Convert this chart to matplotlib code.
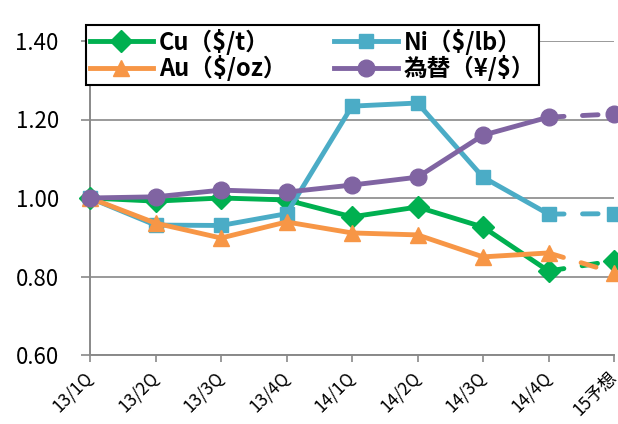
import matplotlib
matplotlib.use("Agg")
import matplotlib.pyplot as plt
import numpy as np

plt.rcParams['font.family'] = ['Noto Sans CJK JP', 'DejaVu Sans']

quarters = ['13/1Q', '13/2Q', '13/3Q', '13/4Q', '14/1Q', '14/2Q', '14/3Q', '14/4Q', '15予想']
cu = [1.00, 0.992, 1.00, 0.995, 0.952, 0.977, 0.926, 0.814, 0.840]
ni = [1.00, 0.931, 0.930, 0.960, 1.234, 1.242, 1.053, 0.959, 0.960]
au = [1.00, 0.936, 0.898, 0.939, 0.911, 0.906, 0.850, 0.860, 0.810]
fx = [1.00, 1.003, 1.020, 1.015, 1.033, 1.053, 1.160, 1.206, 1.214]

series = [
    ('Cu（$/t）', cu, '#00B050', 'D', 11),
    ('Ni（$/lb）', ni, '#4BACC6', 's', 10),
    ('Au（$/oz）', au, '#F79646', '^', 12),
    ('為替（¥/$）', fx, '#8064A2', 'o', 12),
]

fig = plt.figure(figsize=(6.18, 4.24), dpi=100)
ax = fig.add_axes([90/618, (424-355)/424, (614-90)/618, (355-41)/424])

x = np.arange(len(quarters))
handles = {}
for i, (name, vals, col, mk, ms) in enumerate(series):
    z = 3 + i
    h, = ax.plot(x[:8], vals[:8], color=col, lw=3.5, marker=mk, ms=ms,
                 solid_joinstyle='round', clip_on=False, zorder=z, label=name)
    ax.plot(x[7:], vals[7:], color=col, lw=3.5, linestyle=(0, (3.2, 3.8)),
            dash_capstyle='round', clip_on=False, zorder=z)
    ax.plot(x[8:], vals[8:], color=col, marker=mk, ms=ms, lw=0,
            clip_on=False, zorder=z)
    handles[name] = h

ax.set_xlim(0, 8)
ax.set_ylim(0.6, 1.4)
ax.set_yticks([0.6, 0.8, 1.0, 1.2, 1.4])
ax.set_yticklabels(['0.60', '0.80', '1.00', '1.20', '1.40'], fontsize=16)
ax.set_xticks(x)
ax.set_xticklabels(quarters, fontsize=12.5, rotation=45, ha='right',
                   va='center', rotation_mode='anchor')

gridc = '#898989'
ax.yaxis.grid(True, color=gridc, lw=1.2)
ax.set_axisbelow(True)
for s in ['top', 'right']:
    ax.spines[s].set_visible(False)
for s in ['left', 'bottom']:
    ax.spines[s].set_color(gridc)
    ax.spines[s].set_linewidth(1.4)
ax.tick_params(axis='y', direction='out', length=6.5, width=1.2, color=gridc, pad=16)
ax.tick_params(axis='x', direction='out', length=5, width=1.2, color=gridc, pad=9)

order = ['Cu（$/t）', 'Au（$/oz）', 'Ni（$/lb）', '為替（¥/$）']
leg = fig.legend([handles[k] for k in order], order, ncol=2,
                 loc='upper left', bbox_to_anchor=(86/618, 1 - 25/424),
                 bbox_transform=fig.transFigure, borderaxespad=0,
                 fancybox=False, framealpha=1, edgecolor='black',
                 prop={'weight': 'bold', 'size': 17}, handlelength=2.7,
                 columnspacing=2.0, labelspacing=0.02, borderpad=0.15,
                 handletextpad=0.25)
leg.get_frame().set_linewidth(1.5)
leg.set_zorder(10)

fig.savefig('out.png', dpi=100)
